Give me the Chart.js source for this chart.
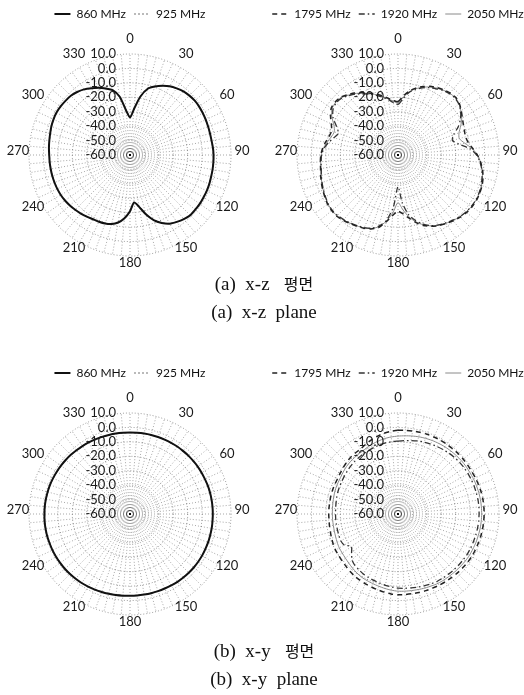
<!DOCTYPE html>
<html>
<head>
<meta charset="utf-8">
<script src="https://cdn.jsdelivr.net/npm/chart.js@4.4.1/dist/chart.umd.min.js"></script>
<style>
  body { margin: 0; width: 524px; height: 695px; overflow: hidden; background: #fff; position: relative; }
  canvas { position: absolute; }
  .cap { position: absolute; left: 0; width: 528px; text-align: center; font-family: "Liberation Serif", serif; font-size: 19px; line-height: 24px; color: #111; white-space: pre; }
  .cap span { font-family: "Noto Sans CJK KR", sans-serif; font-size: 16px; }
</style>
</head>
<body>
<canvas id="xzLow" width="280" height="290" style="left:-10px;top:0"></canvas>
<canvas id="xzHigh" width="280" height="290" style="left:258px;top:0"></canvas>
<canvas id="xyLow" width="280" height="290" style="left:-10px;top:359px"></canvas>
<canvas id="xyHigh" width="280" height="290" style="left:258px;top:359px"></canvas>
<div class="cap" style="top:271px">(a)  x-z   <span>평면</span></div>
<div class="cap" style="top:300px">(a)  x-z  plane</div>
<div class="cap" style="top:638px">(b)  x-y   <span>평면</span></div>
<div class="cap" style="top:667px">(b)  x-y  plane</div>
<script>
// angle categories (deg), every 5 degrees
const angles = [0, 5, 10, 15, 20, 25, 30, 35, 40, 45, 50, 55,
    60, 65, 70, 75, 80, 85, 90, 95, 100, 105, 110, 115,
    120, 125, 130, 135, 140, 145, 150, 155, 160, 165, 170, 175,
    180, 185, 190, 195, 200, 205, 210, 215, 220, 225, 230, 235,
    240, 245, 250, 255, 260, 265, 270, 275, 280, 285, 290, 295,
    300, 305, 310, 315, 320, 325, 330, 335, 340, 345, 350, 355];
const angleTicks = [0, 30, 60, 90, 120, 150, 180, 210, 240, 270, 300, 330];
const dbTicks = [-60, -50, -40, -30, -20, -10, 0, 10];

// (a) x-z plane, dB
const xz860 = [-34, -28, -19, -12.5, -9.5, -7, -5, -3.6, -2.4, -1.8, -1.4, -1.5,
    -1.8, -2.1, -2.4, -2.6, -2.6, -2.3, -2.1, -2, -1.9, -1.8, -1.5, -1.3,
    -1.2, -1, -1, -1, -2, -3.4, -5, -8, -12, -17.5, -23.5, -27,
    -21, -16, -12.5, -10.5, -9.5, -9, -8.6, -7.8, -7, -6.3, -5.6, -5,
    -4.6, -4.4, -4.3, -4.2, -4.2, -4.1, -4, -3.6, -3.2, -2.7, -2, -1.5,
    -1.2, -1.3, -1.6, -2, -3, -4.5, -6.5, -8.5, -11, -13.5, -19, -29];
const xz925 = [-33, -27, -18.5, -12, -9.2, -6.8, -5, -3.8, -2.6, -2, -1.6, -1.6,
    -1.9, -2.2, -2.5, -2.7, -2.7, -2.5, -2.3, -2.1, -2, -1.9, -1.7, -1.5,
    -1.3, -1.2, -1.1, -1.2, -2.1, -3.5, -5.2, -8.2, -12.5, -18, -24, -26,
    -20.5, -15.5, -12.2, -10.4, -9.6, -9.1, -8.7, -8, -7.2, -6.5, -5.8, -5.2,
    -4.8, -4.6, -4.5, -4.4, -4.4, -4.3, -4.2, -3.8, -3.4, -2.9, -2.2, -1.7,
    -1.4, -1.4, -1.7, -2.2, -3.2, -4.7, -6.7, -8.8, -11.2, -13.8, -19.5, -28.5];
const xz1795 = [-23, -19, -15, -12, -9.5, -7.5, -6, -4.8, -3.8, -3.5, -4.5, -6.5,
    -8.5, -10, -11, -11.5, -10.5, -8, -5, -2.5, -0.5, 1, 2, 2.5,
    2.8, 2.6, 2, 1, -0.5, -2, -3.5, -5.5, -8, -11.5, -15.5, -19,
    -21, -18, -13, -8, -5.5, -4, -3, -2, -1, 0, 0, -0.5,
    -1.5, -2.5, -3.5, -4.5, -5.5, -6, -6.5, -7.5, -9, -10.5, -11, -9,
    -6, -3.5, -3, -3.5, -5.5, -7.5, -10, -12.5, -15, -17.5, -20, -22];
const xz1920 = [-25, -21, -16, -13, -10.5, -8.5, -7, -5.5, -4.5, -4.2, -5, -7,
    -10, -14, -19, -21, -17, -10, -5.5, -3, -1, 0.3, 1.3, 2,
    2.3, 2, 1.5, 0.5, -1, -2.5, -4, -6, -9, -13, -18, -27,
    -38, -24, -14, -9, -6, -4.5, -3.5, -2.5, -1.5, -0.8, -0.5, -1,
    -2, -3, -4, -5, -6, -6.5, -7, -8.5, -11, -14, -16, -13,
    -8, -5, -4, -4.5, -6.5, -8.5, -11, -13.5, -16, -18.5, -21, -23.5];
const xz2050 = [-24, -20, -15.5, -12.5, -10, -8, -6.5, -5.2, -4.2, -3.9, -4.8, -6.8,
    -9, -12, -15, -16, -13, -8.5, -4.8, -2.6, -0.8, 0.6, 1.6, 2.2,
    2.5, 2.2, 1.6, 0.6, -0.8, -2.2, -3.8, -5.8, -8.5, -12, -16.5, -22,
    -27, -20, -13.5, -8.5, -5.8, -4.2, -3.2, -2.2, -1.2, -0.4, -0.2, -0.8,
    -1.8, -2.8, -3.8, -4.8, -5.8, -6.2, -6.8, -8, -10, -12, -13, -11,
    -7, -4.2, -3.5, -4, -6, -8, -10.5, -13, -15.5, -18, -20.5, -22.5];

// (b) x-y plane, dB
const xy860 = [-3.5, -3.5, -3.4, -3.3, -3.2, -3.1, -3, -2.9, -2.9, -2.8, -2.8, -2.7,
    -2.7, -2.7, -2.6, -2.6, -2.6, -2.6, -2.6, -2.6, -2.5, -2.5, -2.4, -2.4,
    -2.3, -2.3, -2.3, -2.4, -2.5, -2.6, -2.8, -3, -3.1, -3.2, -3.3, -3.3,
    -3.3, -3.2, -3, -2.8, -2.5, -2.2, -1.9, -1.6, -1.4, -1.2, -1, -0.9,
    -0.8, -0.7, -0.7, -0.6, -0.6, -0.6, -0.7, -0.7, -0.8, -0.9, -1, -1.2,
    -1.4, -1.6, -1.8, -2, -2.3, -2.5, -2.7, -2.9, -3.1, -3.3, -3.4, -3.5];
const xy925 = [-3.7, -3.7, -3.6, -3.5, -3.4, -3.3, -3.2, -3.1, -3, -3, -2.9, -2.9,
    -2.8, -2.8, -2.8, -2.7, -2.7, -2.7, -2.8, -2.8, -2.7, -2.6, -2.6, -2.5,
    -2.5, -2.4, -2.4, -2.5, -2.6, -2.8, -3, -3.1, -3.3, -3.4, -3.5, -3.5,
    -3.5, -3.4, -3.2, -3, -2.7, -2.4, -2.1, -1.8, -1.6, -1.4, -1.2, -1.1,
    -1, -0.9, -0.9, -0.8, -0.8, -0.8, -0.9, -0.9, -1, -1.1, -1.2, -1.4,
    -1.6, -1.8, -2, -2.2, -2.5, -2.7, -2.9, -3.1, -3.3, -3.5, -3.6, -3.7];
const xy1795 = [-2, -1.8, -1.6, -1.4, -1.2, -1.1, -1, -1, -1, -0.9, -0.9, -1,
    -1, -0.8, -0.6, -0.4, -0.3, -0.3, -0.3, -0.4, -0.5, -0.6, -0.8, -0.9,
    -1, -1.3, -1.7, -2, -2.4, -2.7, -3, -3.3, -3.5, -3.7, -3.9, -4,
    -4, -4.4, -5, -5.6, -6.2, -6.6, -7, -7.5, -8.2, -8.9, -9.4, -9.8,
    -10, -10.5, -11, -11.5, -11.8, -12, -12, -12, -12, -11.8, -11.7, -11.6,
    -11.5, -11, -10.3, -9.5, -8.8, -8.4, -8, -6.8, -5.5, -4.3, -3.2, -2.5];
const xy1920 = [-9.5, -9, -8.3, -7.6, -7, -6.5, -6, -5.5, -5, -4.6, -4.3, -4.1,
    -4, -3.9, -3.8, -3.8, -3.7, -3.7, -3.8, -3.9, -4, -4.2, -4.3, -4.4,
    -4.5, -4.8, -5, -5.3, -5.6, -5.8, -6, -6.5, -7, -7.5, -8, -8.3,
    -8.6, -9.2, -9.8, -10.5, -11, -11.5, -12, -12.8, -13.5, -15, -18, -20.5,
    -17, -16.2, -16.4, -16.6, -16.7, -16.7, -16.7, -16.6, -16.4, -16, -15.6, -15.3,
    -15, -14.5, -14, -13.4, -12.8, -12.4, -12, -11.5, -11, -10.5, -10, -9.7];
const xy2050 = [-6, -5.6, -5.1, -4.6, -4.2, -3.8, -3.5, -3.2, -3, -2.8, -2.6, -2.5,
    -2.5, -2.3, -2.2, -2.1, -2, -2, -2, -2.1, -2.2, -2.4, -2.5, -2.7,
    -2.8, -3.1, -3.5, -3.8, -4.1, -4.3, -4.5, -5, -5.4, -5.8, -6.1, -6.3,
    -6.5, -7, -7.6, -8.2, -8.7, -9.1, -9.5, -10.2, -11, -11.8, -12.4, -12.8,
    -13, -13.5, -14, -14.3, -14.5, -14.5, -14.5, -14.4, -14.2, -13.9, -13.5, -13.2,
    -13, -12.5, -11.8, -11.2, -10.8, -10.4, -10, -9.2, -8.4, -7.6, -6.9, -6.4];

const labelFont = "13px Lato";

// extra room between legend and the plot
const legendGap = {
    id: "legendGap",
    beforeInit(chart) {
        const fitLegend = chart.legend.fit;
        chart.legend.fit = function () {
            fitLegend.call(this);
            this.height += 24;
        };
    }
};

// dB labels left of the 0 deg axis, angle labels round the rim
const polarLabels = {
    id: "polarLabels",
    afterDraw(chart) {
        const r = chart.scales.r;
        const ctx = chart.ctx;
        ctx.save();
        ctx.font = labelFont;
        ctx.fillStyle = "#1a1a1a";
        ctx.textBaseline = "middle";
        ctx.textAlign = "right";
        dbTicks.forEach(v => {
            const d = r.getDistanceFromCenterForValue(v);
            ctx.fillText(v.toFixed(1), r.xCenter - 14, r.yCenter - d);
        });
        ctx.textAlign = "center";
        angleTicks.forEach(a => {
            const p = r.getPointPosition(angles.indexOf(a), r.drawingArea + 11);
            ctx.fillText(String(a), p.x, p.y - 4);
        });
        ctx.restore();
    }
};

// legend samples drawn with each line's own dash
function lineLegend(chart) {
    return chart.data.datasets.map((ds, i) => ({
        text: ds.label,
        datasetIndex: i,
        fillStyle: "rgba(0,0,0,0)",
        strokeStyle: ds.borderColor,
        lineWidth: ds.borderWidth,
        lineDash: ds.borderDash || [],
        pointStyle: "line",
        fontColor: "#111",
        hidden: false
    }));
}

function polarChart(id, datasets) {
    return new Chart(document.getElementById(id), {
        type: "radar",
        data: { labels: angles, datasets: datasets },
        options: {
            responsive: false,
            animation: false,
            layout: { padding: { top: 0, bottom: 34 } },
            elements: {
                point: { radius: 0 },
                line: { tension: 0.25, fill: false }
            },
            plugins: {
                legend: {
                    position: "top",
                    labels: {
                        usePointStyle: true,
                        pointStyle: "line",
                        pointStyleWidth: 16,
                        padding: 8,
                        color: "#111",
                        font: { family: "Lato", size: 12 },
                        generateLabels: lineLegend
                    }
                },
                tooltip: { enabled: false }
            },
            scales: {
                r: {
                    min: -60,
                    max: 10,
                    ticks: { display: false, stepSize: 10 },
                    pointLabels: { display: false },
                    grid: { circular: true, color: "rgba(0,0,0,0.4)", lineWidth: 1 },
                    border: { dash: [1, 2] },
                    angleLines: { color: "rgba(0,0,0,0.35)", lineWidth: 1, borderDash: [1, 2] }
                }
            }
        },
        plugins: [legendGap, polarLabels]
    });
}

function lowBand(a, b) {
    return [
        { label: "860 MHz", data: a, borderColor: "#111", borderWidth: 2 },
        { label: "925 MHz", data: b, borderColor: "#777", borderWidth: 1, borderDash: [2, 2] }
    ];
}

function highBand(a, b, c) {
    return [
        { label: "1795 MHz", data: a, borderColor: "#222", borderWidth: 1.5, borderDash: [5, 4] },
        { label: "1920 MHz", data: b, borderColor: "#333", borderWidth: 1.3, borderDash: [6, 3, 1.5, 3] },
        { label: "2050 MHz", data: c, borderColor: "#8a8a8a", borderWidth: 1 }
    ];
}

polarChart("xzLow", lowBand(xz860, xz925));
polarChart("xzHigh", highBand(xz1795, xz1920, xz2050));
polarChart("xyLow", lowBand(xy860, xy925));
polarChart("xyHigh", highBand(xy1795, xy1920, xy2050));
</script>
</body>
</html>
